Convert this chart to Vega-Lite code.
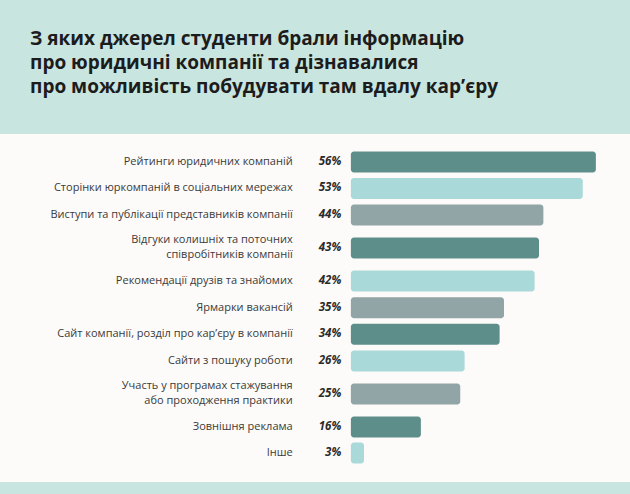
{
  "$schema": "https://vega.github.io/schema/vega-lite/v6.json",
  "autosize": {"type": "pad"},
  "bounds": "flush",
  "padding": {"left": 0, "top": 30, "right": 0, "bottom": 13},
  "background": "#c9e5df",
  "config": {
    "view": {"stroke": null, "fill": "#fcfbf9"},
    "concat": {"spacing": 0},
    "bar": {"cornerRadius": 3},
    "text": {"baseline": "middle", "align": "right", "font": "Open Sans"}
  },
  "title": {
    "text": ["З яких джерел студенти брали інформацію", "про юридичні компанії та дізнавалися", "про можливість побудувати там вдалу кар’єру"],
    "anchor": "start",
    "frame": "group",
    "orient": "top",
    "dx": 30,
    "offset": 18,
    "baseline": "bottom",
    "font": "Open Sans",
    "fontSize": 19,
    "fontWeight": "bold",
    "color": "#1c1c1c",
    "lineHeight": 24
  },
  "resolve": {"scale": {"y": "independent", "color": "independent"}},
  "spacing": 0,
  "vconcat": [
    {
      "width": 630,
      "height": 98,
      "data": {"values": [
        {"source": "Рейтинги юридичних компаній", "value": 0.56},
        {"source": "Сторінки юркомпаній в соціальних мережах", "value": 0.53},
        {"source": "Виступи та публікації представників компанії", "value": 0.44}
      ]},
      "encoding": {"y": {"field": "source", "type": "nominal", "sort": null, "axis": null, "scale": {"paddingInner": 0.2075, "paddingOuter": 0.4528, "align": 0.729}}},
      "layer": [
        {"mark": "bar", "encoding": {
          "x": {"field": "value", "type": "quantitative", "axis": null, "scale": {"domain": [-0.802, 0.638], "nice": false, "zero": false}},
          "x2": {"datum": 0},
          "color": {"field": "source", "type": "nominal", "legend": null, "sort": null, "scale": {"range": ["#5e8e8a", "#a9d9d9", "#91a4a6"]}}
        }},
        {"mark": {"type": "text", "fontSize": 11.5, "fontWeight": "bold", "fontStyle": "italic", "color": "#2a2a2a"}, "encoding": {"x": {"datum": -0.022}, "text": {"field": "value", "type": "quantitative", "format": ".0%"}}},
        {"mark": {"type": "text", "fontSize": 11, "color": "#3a3a3a", "lineBreak": "|", "lineHeight": 15}, "encoding": {"x": {"datum": -0.133}, "text": {"field": "source", "type": "nominal"}}}
      ]
    },
    {
      "width": 630,
      "height": 33,
      "data": {"values": [
        {"source": "Відгуки колишніх та поточних|співробітників компанії", "value": 0.43}
      ]},
      "encoding": {"y": {"field": "source", "type": "nominal", "sort": null, "axis": null, "scale": {"paddingInner": 0.2, "paddingOuter": 0.2286, "align": 0.458}}},
      "layer": [
        {"mark": "bar", "encoding": {
          "x": {"field": "value", "type": "quantitative", "axis": null, "scale": {"domain": [-0.802, 0.638], "nice": false, "zero": false}},
          "x2": {"datum": 0},
          "color": {"field": "source", "type": "nominal", "legend": null, "sort": null, "scale": {"range": ["#5e8e8a"]}}
        }},
        {"mark": {"type": "text", "fontSize": 11.5, "fontWeight": "bold", "fontStyle": "italic", "color": "#2a2a2a"}, "encoding": {"x": {"datum": -0.022}, "text": {"field": "value", "type": "quantitative", "format": ".0%"}}},
        {"mark": {"type": "text", "fontSize": 11, "color": "#3a3a3a", "lineBreak": "|", "lineHeight": 15, "dy": -7.5}, "encoding": {"x": {"datum": -0.133}, "text": {"field": "source", "type": "nominal"}}}
      ]
    },
    {
      "width": 630,
      "height": 113,
      "data": {"values": [
        {"source": "Рекомендації друзів та знайомих", "value": 0.42},
        {"source": "Ярмарки вакансій", "value": 0.35},
        {"source": "Сайт компанії, розділ про кар’єру в компанії", "value": 0.34},
        {"source": "Сайти з пошуку роботи", "value": 0.26}
      ]},
      "encoding": {"y": {"field": "source", "type": "nominal", "sort": null, "axis": null, "scale": {"paddingInner": 0.2125, "paddingOuter": 0.2247, "align": 0.458}}},
      "layer": [
        {"mark": "bar", "encoding": {
          "x": {"field": "value", "type": "quantitative", "axis": null, "scale": {"domain": [-0.802, 0.638], "nice": false, "zero": false}},
          "x2": {"datum": 0},
          "color": {"field": "source", "type": "nominal", "legend": null, "sort": null, "scale": {"range": ["#a9d9d9", "#91a4a6", "#5e8e8a", "#a9d9d9"]}}
        }},
        {"mark": {"type": "text", "fontSize": 11.5, "fontWeight": "bold", "fontStyle": "italic", "color": "#2a2a2a"}, "encoding": {"x": {"datum": -0.022}, "text": {"field": "value", "type": "quantitative", "format": ".0%"}}},
        {"mark": {"type": "text", "fontSize": 11, "color": "#3a3a3a", "lineBreak": "|", "lineHeight": 15}, "encoding": {"x": {"datum": -0.133}, "text": {"field": "source", "type": "nominal"}}}
      ]
    },
    {
      "width": 630,
      "height": 33,
      "data": {"values": [
        {"source": "Участь у програмах стажування|або проходження практики", "value": 0.25}
      ]},
      "encoding": {"y": {"field": "source", "type": "nominal", "sort": null, "axis": null, "scale": {"paddingInner": 0.2, "paddingOuter": 0.2286, "align": 0.458}}},
      "layer": [
        {"mark": "bar", "encoding": {
          "x": {"field": "value", "type": "quantitative", "axis": null, "scale": {"domain": [-0.802, 0.638], "nice": false, "zero": false}},
          "x2": {"datum": 0},
          "color": {"field": "source", "type": "nominal", "legend": null, "sort": null, "scale": {"range": ["#91a4a6"]}}
        }},
        {"mark": {"type": "text", "fontSize": 11.5, "fontWeight": "bold", "fontStyle": "italic", "color": "#2a2a2a"}, "encoding": {"x": {"datum": -0.022}, "text": {"field": "value", "type": "quantitative", "format": ".0%"}}},
        {"mark": {"type": "text", "fontSize": 11, "color": "#3a3a3a", "lineBreak": "|", "lineHeight": 15, "dy": -7.5}, "encoding": {"x": {"datum": -0.133}, "text": {"field": "source", "type": "nominal"}}}
      ]
    },
    {
      "width": 630,
      "height": 71,
      "data": {"values": [
        {"source": "Зовнішня реклама", "value": 0.16},
        {"source": "Інше", "value": 0.03}
      ]},
      "encoding": {"y": {"field": "source", "type": "nominal", "sort": null, "axis": null, "scale": {"paddingInner": 0.1923, "paddingOuter": 0.4615, "align": 0.229}}},
      "layer": [
        {"mark": "bar", "encoding": {
          "x": {"field": "value", "type": "quantitative", "axis": null, "scale": {"domain": [-0.802, 0.638], "nice": false, "zero": false}},
          "x2": {"datum": 0},
          "color": {"field": "source", "type": "nominal", "legend": null, "sort": null, "scale": {"range": ["#5e8e8a", "#a9d9d9"]}}
        }},
        {"mark": {"type": "text", "fontSize": 11.5, "fontWeight": "bold", "fontStyle": "italic", "color": "#2a2a2a"}, "encoding": {"x": {"datum": -0.022}, "text": {"field": "value", "type": "quantitative", "format": ".0%"}}},
        {"mark": {"type": "text", "fontSize": 11, "color": "#3a3a3a", "lineBreak": "|", "lineHeight": 15}, "encoding": {"x": {"datum": -0.133}, "text": {"field": "source", "type": "nominal"}}}
      ]
    }
  ]
}
